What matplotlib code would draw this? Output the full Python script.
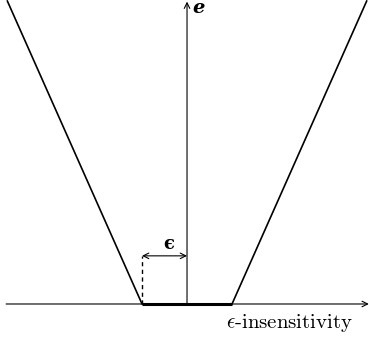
import matplotlib
matplotlib.use("Agg")
import matplotlib.pyplot as plt

plt.rcParams['mathtext.fontset'] = 'cm'

# epsilon-insensitive loss, schematic (units of epsilon)
eps = 1.0
loss_x = [-4.0, -1.0, 1.0, 4.0]
loss_y = [6.75, 0.0, 0.0, 6.75]
flat_x = [-1.0, 1.0]
flat_y = [0.0, 0.0]
marker_h = 1.07

fig = plt.figure(figsize=(3.69, 3.39), dpi=100)
ax = fig.add_axes([0, 0, 1, 1])
ax.set_xlim(-4.156, 4.044)
ax.set_ylim(-0.778, 6.756)
ax.axis('off')

# axes with arrows
ax.annotate('', xy=(4.04, 0), xytext=(-4.02, 0),
            arrowprops=dict(arrowstyle='->', lw=0.8, color='black', shrinkA=0, shrinkB=0))
ax.annotate('', xy=(0, 6.72), xytext=(0, 0),
            arrowprops=dict(arrowstyle='->', lw=0.8, color='black', shrinkA=0, shrinkB=0))

# loss curve
ax.plot(loss_x, loss_y, color='black', lw=1.2, solid_capstyle='butt')
ax.plot(flat_x, flat_y, color='black', lw=2.2, solid_capstyle='butt')

# epsilon marker
ax.plot([-eps, -eps], [0, marker_h], color='black', lw=1.0, ls=(0, (3, 2.5)))
ax.annotate('', xy=(0, marker_h), xytext=(-eps, marker_h),
            arrowprops=dict(arrowstyle='<->', lw=0.8, color='black', shrinkA=0, shrinkB=0))
ax.text(-0.4, marker_h + 0.07, 'ϵ', fontsize=13, fontweight='bold',
        family='DejaVu Serif', ha='center', va='bottom')

# labels
ax.text(0.12, 6.58, 'e', fontsize=14, fontweight='bold', style='italic',
        family='DejaVu Serif', ha='left', va='center')
ax.text(2.27, -0.42, r'$\epsilon$-insensitivity', fontsize=15,
        family='cmr10', ha='center', va='center')

fig.savefig('out.png', dpi=100)
